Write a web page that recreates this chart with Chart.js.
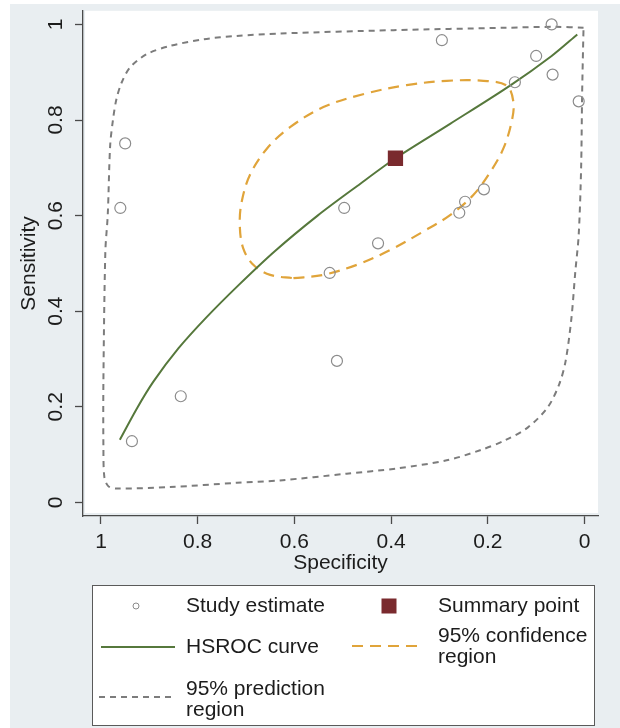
<!DOCTYPE html>
<html>
<head>
<meta charset="utf-8">
<script src="https://cdn.jsdelivr.net/npm/chart.js@4.4.0/dist/chart.umd.min.js"></script>
<style>
  html, body { margin: 0; padding: 0; background: #fff; }
</style>
</head>
<body>
<canvas id="hsroc" width="620" height="728"></canvas>
<script>
// study estimates (specificity, sensitivity)
const studySpec = [0.068, 0.295, 0.100, 0.066, 0.144, 0.012, 0.950, 0.960, 0.497, 0.247, 0.259, 0.208, 0.427, 0.527, 0.512, 0.835, 0.936];
const studySens = [1.000, 0.967, 0.934, 0.895, 0.879, 0.839, 0.751, 0.616, 0.616, 0.629, 0.606, 0.655, 0.542, 0.480, 0.296, 0.222, 0.128];

const summarySpec = [0.391];
const summarySens = [0.720];

// HSROC curve
const hsrocSpec = [0.961, 0.926, 0.892, 0.840, 0.782, 0.717, 0.640, 0.552, 0.470, 0.391, 0.278, 0.154, 0.068, 0.015];
const hsrocSens = [0.131, 0.196, 0.252, 0.322, 0.387, 0.453, 0.526, 0.600, 0.662, 0.720, 0.792, 0.872, 0.934, 0.979];

// 95% confidence region
const confSpec = [0.602, 0.540, 0.471, 0.402, 0.333, 0.278, 0.230, 0.195, 0.168, 0.151, 0.147, 0.161, 0.209, 0.285, 0.368, 0.458, 0.540, 0.609, 0.657, 0.692, 0.709, 0.713, 0.706, 0.685, 0.650, 0.602];
const confSens = [0.469, 0.476, 0.497, 0.528, 0.567, 0.601, 0.643, 0.691, 0.740, 0.795, 0.837, 0.872, 0.882, 0.882, 0.873, 0.854, 0.827, 0.785, 0.740, 0.685, 0.629, 0.581, 0.532, 0.497, 0.476, 0.469];

// 95% prediction region
const predSpec = [0.002, 0.060, 0.164, 0.395, 0.630, 0.719, 0.788, 0.857, 0.905, 0.940, 0.957, 0.968, 0.975, 0.981, 0.986, 0.991, 0.995, 0.995, 0.993, 0.985, 0.968, 0.857, 0.719, 0.630, 0.492, 0.388, 0.285, 0.216, 0.164, 0.117, 0.076, 0.052, 0.039, 0.027, 0.019, 0.012, 0.007, 0.005, 0.003, 0.002];
const predSens = [0.993, 0.995, 0.993, 0.988, 0.981, 0.976, 0.969, 0.955, 0.938, 0.910, 0.879, 0.844, 0.802, 0.747, 0.602, 0.524, 0.254, 0.116, 0.053, 0.034, 0.029, 0.032, 0.041, 0.046, 0.060, 0.071, 0.088, 0.109, 0.130, 0.157, 0.199, 0.248, 0.296, 0.386, 0.483, 0.560, 0.700, 0.850, 0.950, 0.993];

const xTickValues = [1, 0.8, 0.6, 0.4, 0.2, 0];
const xTickLabels = ['1', '0.8', '0.6', '0.4', '0.2', '0'];
const yTickValues = [0, 0.2, 0.4, 0.6, 0.8, 1];
const yTickLabels = ['0', '0.2', '0.4', '0.6', '0.8', '1'];

const legendLabels = [['Study estimate'], ['Summary point'], ['HSROC curve'], ['95% confidence', 'region'], ['95% prediction', 'region']];

const pts = (xs, ys) => xs.map((x, i) => ({ x: x, y: ys[i] }));

const FONT = '"Liberation Sans", Arial, sans-serif';
const TEXT = '#1c1c1c';
const AXIS = '#4a4a4a';

// legend slots: symbol position and text position, same order as datasets
const legendSlots = [
  { sx: 136, sy: 606, tx: 186, ty: [606] },
  { sx: 389, sy: 606, tx: 438, ty: [606] },
  { x0: 101, x1: 175, sy: 647, tx: 186, ty: [647] },
  { x0: 352, x1: 418, sy: 646, tx: 438, ty: [636, 657] },
  { x0: 99, x1: 171, sy: 697, tx: 186, ty: [689, 710] }
];

const frame = {
  id: 'frame',
  beforeDraw(chart) {
    const c = chart.ctx;
    const a = chart.chartArea;
    c.save();
    c.fillStyle = '#ffffff';
    c.fillRect(0, 0, chart.width, chart.height);
    c.fillStyle = '#e9eef1';
    c.fillRect(10, 4, chart.width - 10, chart.height - 4);
    c.fillStyle = '#ffffff';
    c.fillRect(a.left + 2, a.top, a.right - a.left - 2, a.bottom - a.top - 3);
    c.restore();
  },
  afterDraw(chart) {
    const c = chart.ctx;
    c.save();
    c.fillStyle = '#ffffff';
    c.fillRect(92, 585, 502, 140);
    c.strokeStyle = '#5a5a5a';
    c.lineWidth = 1;
    c.strokeRect(92.5, 585.5, 502, 140);

    chart.data.datasets.forEach((ds, i) => {
      const s = legendSlots[i];
      c.save();
      if (s.x0 !== undefined) {
        c.strokeStyle = ds.borderColor;
        c.lineWidth = ds.borderWidth;
        c.setLineDash(ds.borderDash || []);
        c.beginPath();
        c.moveTo(s.x0, s.sy);
        c.lineTo(s.x1, s.sy);
        c.stroke();
      } else if (ds.pointStyle === 'rect') {
        c.fillStyle = ds.backgroundColor;
        c.fillRect(s.sx - 7.5, s.sy - 7.5, 15, 15);
      } else {
        c.strokeStyle = ds.borderColor;
        c.lineWidth = 1;
        c.beginPath();
        c.arc(s.sx, s.sy, 3, 0, Math.PI * 2);
        c.stroke();
      }
      c.restore();
      c.fillStyle = TEXT;
      c.font = '21px ' + FONT;
      c.textBaseline = 'middle';
      c.textAlign = 'left';
      legendLabels[i].forEach((t, k) => c.fillText(t, s.tx, s.ty[k]));
    });
    c.restore();
  }
};

new Chart(document.getElementById('hsroc'), {
  type: 'scatter',
  data: {
    datasets: [
      {
        label: 'Study estimate',
        data: pts(studySpec, studySens),
        pointStyle: 'circle',
        pointRadius: 5.5,
        pointBorderWidth: 1.2,
        borderColor: '#8c8c8c',
        backgroundColor: 'rgba(0,0,0,0)'
      },
      {
        label: 'Summary point',
        data: pts(summarySpec, summarySens),
        pointStyle: 'rect',
        pointRadius: 10.8,
        borderWidth: 0,
        borderColor: '#7a2a2e',
        backgroundColor: '#7a2a2e'
      },
      {
        label: 'HSROC curve',
        data: pts(hsrocSpec, hsrocSens),
        showLine: true,
        pointRadius: 0,
        borderColor: '#56783c',
        borderWidth: 2,
        tension: 0.3
      },
      {
        label: '95% confidence region',
        data: pts(confSpec, confSens),
        showLine: true,
        pointRadius: 0,
        borderColor: '#e0a43a',
        borderWidth: 2.2,
        borderDash: [11, 7],
        tension: 0.35
      },
      {
        label: '95% prediction region',
        data: pts(predSpec, predSens),
        showLine: true,
        pointRadius: 0,
        borderColor: '#7c7c7c',
        borderWidth: 2,
        borderDash: [6, 5],
        tension: 0.3
      }
    ]
  },
  options: {
    responsive: false,
    animation: false,
    layout: { padding: { left: 0, top: 8, right: 22, bottom: 0 } },
    plugins: { legend: { display: false }, tooltip: { enabled: false } },
    scales: {
      x: {
        type: 'linear',
        reverse: true,
        min: -0.0279,
        max: 1.0372,
        afterFit: s => { s.height = 212; s.paddingLeft = 0; s.paddingRight = 0; },
        afterBuildTicks: s => { s.ticks = xTickValues.map(v => ({ value: v })); },
        grid: { drawOnChartArea: false, drawTicks: true, tickLength: 8, tickColor: AXIS, tickWidth: 1.3 },
        border: { color: AXIS, width: 1.3 },
        ticks: {
          autoSkip: false,
          maxRotation: 0,
          padding: 6,
          color: TEXT,
          font: { family: FONT, size: 21 },
          callback: v => xTickLabels[xTickValues.indexOf(v)]
        },
        title: {
          display: true,
          text: 'Specificity',
          color: TEXT,
          font: { family: FONT, size: 21 },
          padding: { top: 0, bottom: 152 }
        }
      },
      y: {
        type: 'linear',
        min: -0.0285,
        max: 1.0285,
        afterFit: s => { s.width = 83; s.paddingTop = 0; s.paddingBottom = 0; },
        afterBuildTicks: s => { s.ticks = yTickValues.map(v => ({ value: v })); },
        grid: { drawOnChartArea: false, drawTicks: true, tickLength: 8, tickColor: AXIS, tickWidth: 1.3 },
        border: { color: AXIS, width: 1.3 },
        ticks: {
          autoSkip: false,
          minRotation: 90,
          maxRotation: 90,
          crossAlign: 'center',
          padding: 4,
          color: TEXT,
          font: { family: FONT, size: 21 },
          callback: v => yTickLabels[yTickValues.indexOf(v)]
        },
        title: {
          display: true,
          text: 'Sensitivity',
          color: TEXT,
          font: { family: FONT, size: 21 },
          padding: { top: 17, bottom: 0 }
        }
      }
    }
  },
  plugins: [frame]
});
</script>
</body>
</html>
